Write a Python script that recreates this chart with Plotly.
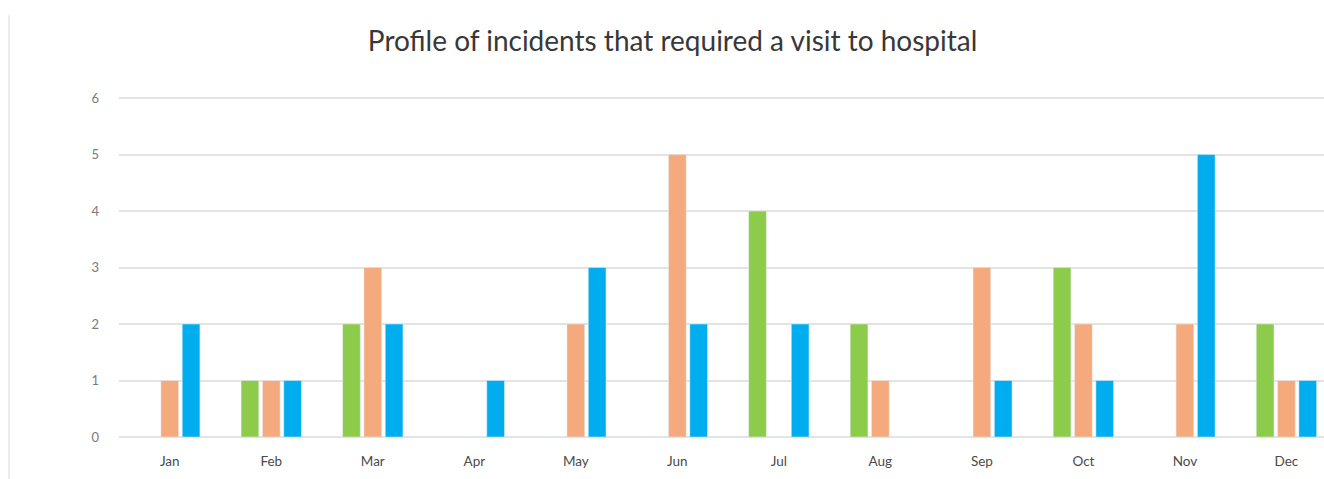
import plotly.graph_objects as go

months = ["Jan", "Feb", "Mar", "Apr", "May", "Jun", "Jul", "Aug", "Sep", "Oct", "Nov", "Dec"]
green_vals = [0, 1, 2, 0, 0, 0, 4, 2, 0, 3, 0, 2]
orange_vals = [1, 1, 3, 0, 2, 5, 0, 1, 3, 2, 2, 1]
blue_vals = [2, 1, 2, 1, 3, 2, 2, 0, 1, 1, 5, 1]
y_ticks = [0, 1, 2, 3, 4, 5, 6]

fig = go.Figure()
fig.add_trace(go.Bar(x=months, y=green_vals, marker_color="#8DCB4B", name="Series 1"))
fig.add_trace(go.Bar(x=months, y=orange_vals, marker_color="#F4AA7C", name="Series 2"))
fig.add_trace(go.Bar(x=months, y=blue_vals, marker_color="#00AEEF", name="Series 3"))

fig.update_layout(
    width=1324, height=479,
    paper_bgcolor="white", plot_bgcolor="white",
    margin=dict(l=119, r=0, t=97, b=42),
    barmode="group", bargap=0.37, bargroupgap=0.17,
    showlegend=False,
    font=dict(family="Lato, Open Sans, sans-serif", color="#595959"),
    title=dict(text="Profile of incidents that required a visit to hospital",
               x=0.508, xanchor="center", y=0.915, yanchor="middle",
               font=dict(size=28, color="#383838", family="Lato, Open Sans, sans-serif")),
    xaxis=dict(showgrid=False, showline=False, ticks="", tickfont=dict(size=13.5, color="#4A4A4A"),
               range=[-0.5, 11.37], ticklabelstandoff=14),
    yaxis=dict(range=[0, 6.02], tickvals=y_ticks, showgrid=True, gridcolor="#E3E3E3", gridwidth=1.5,
               zeroline=True, zerolinecolor="#E3E3E3", zerolinewidth=1.5,
               tickfont=dict(size=13, color="#7A7A7A"), ticks="", ticklabelstandoff=19),
    shapes=[dict(type="line", xref="paper", yref="paper", x0=-0.0913, x1=-0.0913, y0=-0.14, y1=1.24,
                 line=dict(color="#E6E6E6", width=1.5))],
)
fig.write_html(
    "out.html",
    config={"displayModeBar": False},
    post_script=("document.body.style.margin='0';document.body.style.overflow='hidden';"
                 "document.documentElement.style.overflow='hidden';"),
)
